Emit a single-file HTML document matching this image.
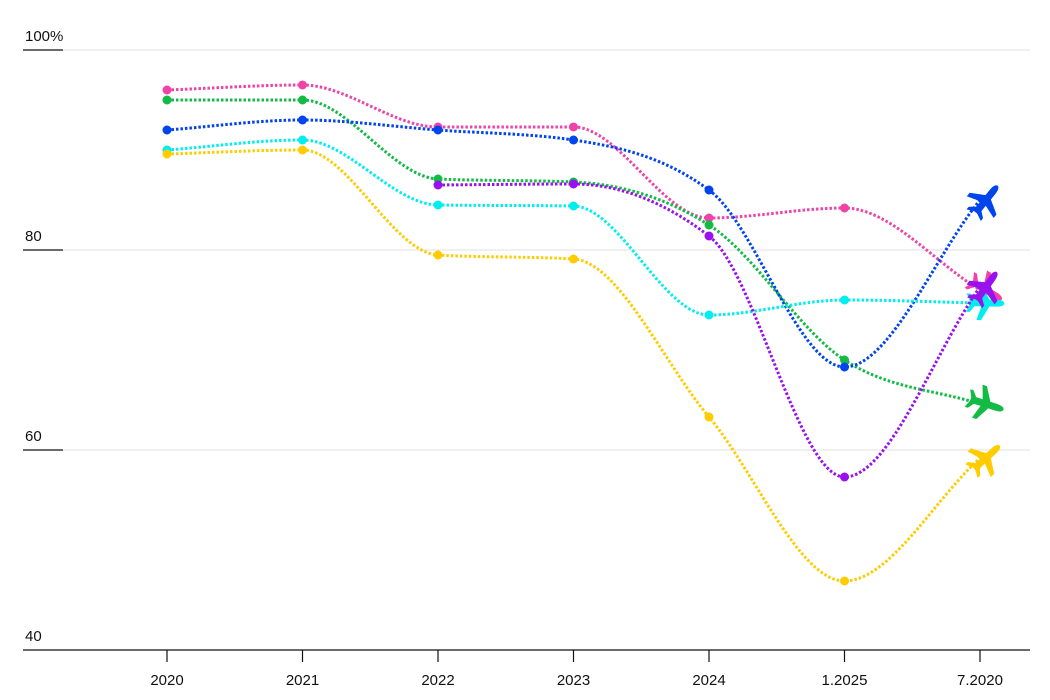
<!DOCTYPE html>
<html><head><meta charset="utf-8"><style>
html,body{margin:0;padding:0;background:#fff;}
svg{display:block;font-family:"Liberation Sans",sans-serif;}
</style></head><body>
<svg id="chart" width="1050" height="700" viewBox="0 0 1050 700"></svg>
<script>
const categories=["2020","2021","2022","2023","2024","1.2025","7.2020"];
const yTicks=[100,80,60,40];
const yTickLabels=["100%","80","60","40"];
const pinkValues=[96,96.5,92.3,92.3,83.2,84.2,76];
const greenValues=[95,95,87.1,86.8,82.5,69,64.6];
const blueValues=[92,93,92,91,86,68.3,85];
const cyanValues=[90,91,84.5,84.4,73.5,75,74.7];
const yellowValues=[89.6,90,79.5,79.1,63.3,46.9,59.2];
const purpleValues=[null,null,86.5,86.6,81.4,57.3,76.3];
const seriesNames=["pink","green","blue","cyan","yellow","purple"];
const seriesColors=["#ee44aa","#11bb44","#0044ee","#00eeee","#ffcc00","#9911ee"];
const seriesData=[pinkValues,greenValues,blueValues,cyanValues,yellowValues,purpleValues];

const NS="http://www.w3.org/2000/svg";
const svg=document.getElementById('chart');
function x(i){return 167+i*(980-167)/(categories.length-1);}
function y(v){return 650-(v-40)*10;}
function mk(t,a,p){const e=document.createElementNS(NS,t);for(const k in a)e.setAttribute(k,a[k]);(p||svg).appendChild(e);return e;}

yTicks.forEach((t,i)=>{
  if(t!==40){
    const g=mk('line',{x1:63,x2:1030,y1:y(t),y2:y(t),stroke:'#e2e2e2','stroke-width':1});
    
    
    const k=mk('line',{x1:23,x2:63,y1:y(t),y2:y(t),stroke:'#111','stroke-width':1.2});
    
    
  }
  const tx=mk('text',{x:25,y:y(t)-9,'font-size':15,fill:'#111'});
  tx.textContent=yTickLabels[i];
  
  
});
const base=mk('line',{x1:23,x2:1030,y1:650,y2:650,stroke:'#111','stroke-width':1.3});


categories.forEach((c,i)=>{
  const tk=mk('line',{x1:x(i),x2:x(i),y1:650,y2:662,stroke:'#111','stroke-width':1.2});
  
  
  const tx=mk('text',{x:x(i),y:685,'font-size':15,fill:'#111','text-anchor':'middle'});
  tx.textContent=c;
  
  
});

function monotonePath(pts){
  const n=pts.length;if(n<2)return '';
  const dx=[],dy=[],m=[];
  for(let i=0;i<n-1;i++){dx.push(pts[i+1][0]-pts[i][0]);dy.push(pts[i+1][1]-pts[i][1]);m.push(dy[i]/dx[i]);}
  const t=new Array(n);
  t[0]=m[0];t[n-1]=m[n-2];
  for(let i=1;i<n-1;i++){
    if(m[i-1]*m[i]<=0)t[i]=0;
    else{const s=(m[i-1]*dx[i]+m[i]*dx[i-1])/(dx[i-1]+dx[i]);
      t[i]=(Math.sign(m[i-1])+Math.sign(m[i]))*Math.min(Math.abs(m[i-1]),Math.abs(m[i]),0.5*Math.abs(s));}
  }
  let d='M'+pts[0][0]+','+pts[0][1];
  for(let i=0;i<n-1;i++){
    const h=dx[i]/3;
    d+=' C'+(pts[i][0]+h)+','+(pts[i][1]+t[i]*h)+' '+(pts[i+1][0]-h)+','+(pts[i+1][1]-t[i+1]*h)+' '+pts[i+1][0]+','+pts[i+1][1];
  }
  return d;
}
const planeD="M16,0 C16,-2 13,-3 9,-3 L3,-3 L-4,-15 L-8,-15 L-4,-3 L-10,-3 L-14,-8 L-17,-8 L-14,-1.5 L-14,1.5 L-17,8 L-14,8 L-10,3 L-4,3 L-8,15 L-4,15 L3,3 L9,3 C13,3 16,2 16,0 Z";

seriesData.forEach((vals,s)=>{
  const g=mk('g',{});
  
  
  const pts=[];
  vals.forEach((v,i)=>{if(v!==null)pts.push([x(i),y(v)]);});
  const p=mk('path',{d:monotonePath(pts),fill:'none',stroke:seriesColors[s],'stroke-width':3,'stroke-dasharray':'2.5 2'},g);
  
  
  pts.slice(0,-1).forEach((pt,j)=>{
    const c=mk('circle',{cx:pt[0],cy:pt[1],r:4.5,fill:seriesColors[s]},g);
    
    
  });
  const a=pts[pts.length-2],b=pts[pts.length-1];
  const ang=Math.atan2(b[1]-a[1],b[0]-a[0])*180/Math.PI;
  const pl=mk('path',{d:planeD,fill:seriesColors[s],transform:'translate('+(b[0]+6)+','+b[1]+') rotate('+ang+') scale(1.15)'},g);
  
  
});
</script>
</body></html>
